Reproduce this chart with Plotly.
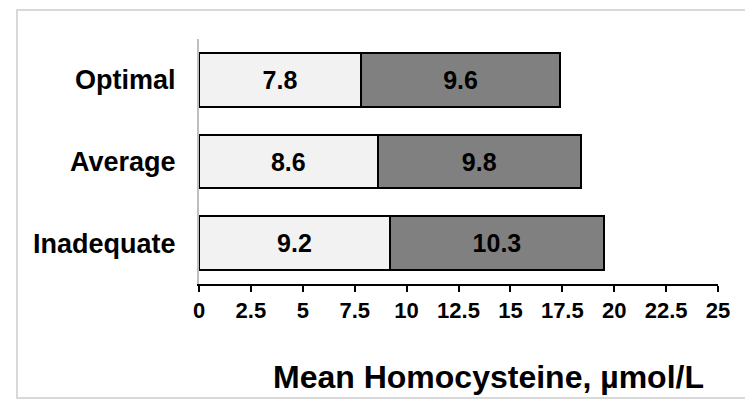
import plotly.graph_objects as go

categories = ["Inadequate", "Average", "Optimal"]
light_values = [9.2, 8.6, 7.8]
dark_values = [10.3, 9.8, 9.6]
tick_values = [0, 2.5, 5, 7.5, 10, 12.5, 15, 17.5, 20, 22.5, 25]
tick_labels = ["0", "2.5", "5", "7.5", "10", "12.5", "15", "17.5", "20", "22.5", "25"]
x_title = "Mean Homocysteine, µmol/L"

FONT = "Liberation Sans, Arial, sans-serif"

OFF = 8  # page body margin
W, H = 753 - OFF, 401 - OFF
L, T = 199 - OFF, 39 - OFF
R = W - (718 - OFF)
B = H - (284 - OFF)
PW = W - L - R
PH = H - T - B

def px(x):
    return (x - OFF - L) / PW

def py(y):
    return (H - B - (y - OFF)) / PH

fig = go.Figure()
fig.add_trace(go.Bar(
    y=categories, x=light_values, orientation="h",
    marker=dict(color="#f2f2f2", line=dict(color="black", width=2)),
    text=[f"{v:g}" for v in light_values], textposition="inside",
    insidetextanchor="middle", textangle=0,
    textfont=dict(family=FONT, size=25, color="black", weight="bold"),
    hoverinfo="skip",
))
fig.add_trace(go.Bar(
    y=categories, x=dark_values, orientation="h",
    marker=dict(color="#808080", line=dict(color="black", width=2)),
    text=[f"{v:g}" for v in dark_values], textposition="inside",
    insidetextanchor="middle", textangle=0,
    textfont=dict(family=FONT, size=25, color="black", weight="bold"),
    hoverinfo="skip",
))

fig.update_layout(
    width=W, height=H,
    margin=dict(l=L, r=R, t=T, b=B, autoexpand=False),
    barmode="stack", bargap=0.34,
    showlegend=False,
    paper_bgcolor="white", plot_bgcolor="white",
    font=dict(family=FONT, color="black"),
    xaxis=dict(
        range=[0, 25], tickvals=tick_values, ticktext=tick_labels,
        showgrid=False, zeroline=False,
        showline=True, linecolor="black", linewidth=2,
        ticks="outside", ticklen=6, tickwidth=2, tickcolor="black",
        tickfont=dict(family=FONT, size=22, color="black", weight="bold"),
        fixedrange=True,
    ),
    yaxis=dict(
        showgrid=False, zeroline=False,
        showline=True, linecolor="#bfbfbf", linewidth=2,
        ticks="", ticklabelstandoff=16,
        tickfont=dict(family=FONT, size=27, color="black", weight="bold"),
        fixedrange=True,
    ),
    shapes=[
        dict(type="rect", xref="paper", yref="paper",
             x0=px(17), x1=px(780), y0=py(398), y1=py(10),
             line=dict(color="#d9d9d9", width=2), fillcolor="rgba(0,0,0,0)", layer="below"),
        dict(type="rect", xref="paper", yref="paper",
             x0=px(746), x1=px(754), y0=py(10), y1=py(0),
             line=dict(width=0), fillcolor="#d6eefc", layer="above"),
    ],
    annotations=[
        dict(text=x_title, xref="paper", yref="paper",
             x=px(488), y=py(377), xanchor="center", yanchor="middle",
             showarrow=False,
             font=dict(family=FONT, size=32, color="black", weight="bold")),
    ],
)

fig.write_html("out.html")
